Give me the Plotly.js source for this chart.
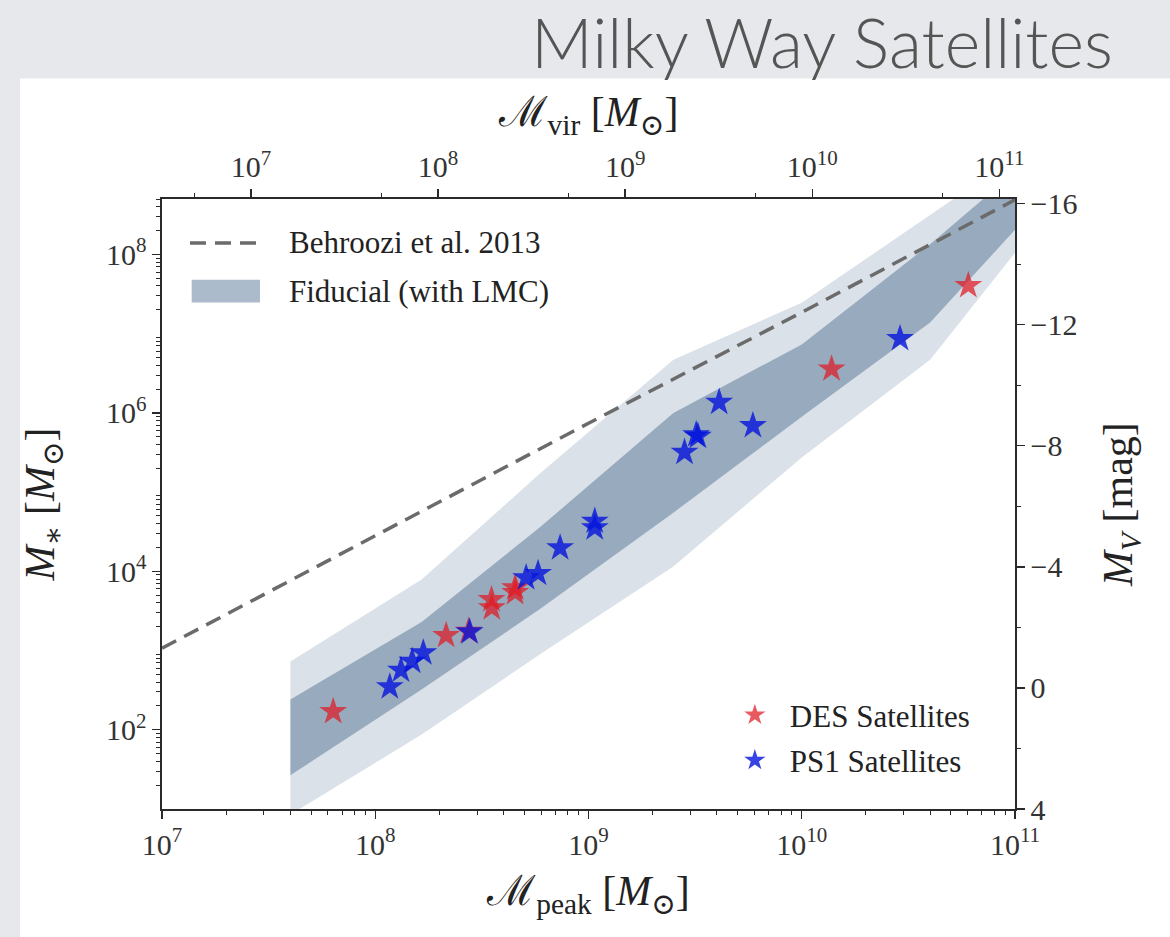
<!DOCTYPE html>
<html>
<head>
<meta charset="utf-8">
<script src="https://cdn.plot.ly/plotly-3.0.1.min.js"></script>
<style>
  html, body { margin: 0; padding: 0; background: #e6e8eb; }
  #chart { width: 1170px; height: 937px; }
</style>
</head>
<body>
<div id="chart"></div>
<script>
// Peak halo mass grid for the fiducial stellar-mass band [Msun]
const bandMpeak   = [4.0e7, 1.65e8, 5.9e8, 2.5e9, 1.0e10, 4.0e10, 1.0e11];
// 95% (outer) and 68% (inner) envelopes of M* [Msun]
const outerUpper  = [7.3e2, 7.9e3, 1.7e5, 4.7e6, 2.46e7, 3.08e8, 1.7e9];
const outerLower  = [8.5,   87,    890,   1.15e4, 2.73e5, 4.7e6, 1.05e8];
const innerUpper  = [241,   2.3e3, 3.57e4, 1.0e6, 7.3e6, 1.35e8, 1.1e9];
const innerLower  = [26.7,  322,   3.32e3, 5.5e4, 8.97e5, 1.38e7, 2.05e8];

// Behroozi et al. (2013) relation
const behrooziMpeak = [1e7, 1e8, 1e9, 1e10, 3.16e10, 1e11];
const behrooziMstar = [1.07e3, 2.82e4, 7.4e5, 1.86e7, 9.5e7, 4.9e8];

// Satellites placed on the relation
const desMpeak  = [6.35e7, 2.15e8, 2.74e8, 3.51e8, 3.52e8, 4.53e8, 4.53e8, 1.38e10, 6.04e10];
const desMstar  = [170, 1.55e3, 1.75e3, 4.4e3, 3.46e3, 6.2e3, 5.4e3, 3.59e6, 4.04e7];
const ps1Mpeak  = [1.17e8, 1.32e8, 1.49e8, 1.68e8, 2.77e8, 5.1e8, 5.8e8, 7.36e8, 1.07e9, 1.07e9,
                   2.82e9, 3.2e9, 3.26e9, 4.1e9, 5.9e9, 2.89e10];
const ps1Mstar  = [348, 565, 733, 935, 1.72e3, 8.3e3, 9.4e3, 1.98e4, 4.29e4, 3.54e4,
                   3.18e5, 5.3e5, 5.07e5, 1.36e6, 6.9e5, 8.65e6];

// Legend labels for the relation and the band
const relationLabels = ['Behroozi et al. 2013', 'Fiducial (with LMC)'];
const surveyLabels   = ['DES Satellites', 'PS1 Satellites'];

// Axis ticks
const peakTickVals = [1e7, 1e8, 1e9, 1e10, 1e11];
const peakTickText = ['10<sup>7</sup>', '10<sup>8</sup>', '10<sup>9</sup>', '10<sup>10</sup>', '10<sup>11</sup>'];
const virTickVals  = [1e7, 1e8, 1e9, 1e10, 1e11];
const virTickText  = ['10<sup>7</sup>', '10<sup>8</sup>', '10<sup>9</sup>', '10<sup>10</sup>', '10<sup>11</sup>'];
const mstarTickVals = [1e2, 1e4, 1e6, 1e8];
const mstarTickText = ['10<sup>2</sup>', '10<sup>4</sup>', '10<sup>6</sup>', '10<sup>8</sup>'];
const magTickVals  = [4, 0, -4, -8, -12, -16];
const magTickText  = ['4', '0', '\u22124', '\u22128', '\u221212', '\u221216'];
const magMinorVals = [2, -2, -6, -10, -14];
const virMinorVals = [5e6, 5e7, 5e8, 5e9, 5e10];

// log minor ticks (2..9 per decade)
function logMinor(lo, hi) {
  const out = [];
  for (let e = lo; e < hi; e++) for (let m = 2; m <= 9; m++) out.push(m * Math.pow(10, e));
  return out;
}

const serif = 'Liberation Serif, DejaVu Serif, serif';
const ink = '#2a2a2a';
const dashStyle = '16px,9px';
const dashColor = '#6b6b6b';
const outerColor = 'rgba(70,105,140,0.2)';
const innerColor = 'rgba(70,105,140,0.45)';

const closedBand = (up, lo) => ({
  x: bandMpeak.concat(bandMpeak.slice().reverse()),
  y: up.concat(lo.slice().reverse())
});
const outerPoly = closedBand(outerUpper, outerLower);
const innerPoly = closedBand(innerUpper, innerLower);

const traces = [
  {
    x: outerPoly.x, y: outerPoly.y, type: 'scatter', mode: 'lines',
    fill: 'toself', fillcolor: outerColor, line: {width: 0},
    showlegend: false, hoverinfo: 'skip'
  },
  {
    x: innerPoly.x, y: innerPoly.y, type: 'scatter', mode: 'lines',
    fill: 'toself', fillcolor: innerColor, line: {width: 0},
    name: relationLabels[1], showlegend: false
  },
  {
    x: behrooziMpeak, y: behrooziMstar, type: 'scatter', mode: 'lines',
    name: relationLabels[0], showlegend: false,
    line: {color: dashColor, width: 3.5, dash: dashStyle}
  },
  {
    x: desMpeak, y: desMstar, type: 'scatter', mode: 'markers',
    name: surveyLabels[0], legend: 'legend2', legendgroup: 'des',
    marker: {symbol: 'star', size: 21, color: 'rgba(225,25,35,0.72)', line: {width: 0}}
  },
  {
    x: ps1Mpeak, y: ps1Mstar, type: 'scatter', mode: 'markers',
    name: surveyLabels[1], legend: 'legend2', legendgroup: 'ps1',
    marker: {symbol: 'star', size: 21, color: 'rgba(5,20,220,0.8)', line: {width: 0}}
  },
  // empty carriers so the secondary (M_vir, M_V) axes get drawn
  {x: [null], y: [null], xaxis: 'x2', yaxis: 'y', mode: 'markers', showlegend: false, hoverinfo: 'skip'},
  {x: [null], y: [null], xaxis: 'x', yaxis: 'y2', mode: 'markers', showlegend: false, hoverinfo: 'skip'}
];

const axisCommon = {
  showgrid: false, zeroline: false, showline: true,
  linecolor: ink, linewidth: 1.6,
  ticks: 'outside', ticklen: 8, tickwidth: 1.3, tickcolor: ink,
  tickfont: {family: serif, size: 30, color: '#333'}
};
const minorCommon = {tickmode: 'array', ticks: 'outside', ticklen: 4, tickwidth: 1, tickcolor: ink};
const titleFont = {family: serif, size: 42, color: '#222'};
const legendFont = {family: serif, size: 31, color: '#222'};

// paper coordinates of the hand-placed relation legend
const legX0 = 0.0328, legX1 = 0.1149, legText = 0.1465;
const legRowY = [0.9279, 0.849];

const layout = {
  width: 1170, height: 937,
  margin: {l: 162, r: 155, t: 199, b: 128},
  paper_bgcolor: '#e6e8eb',
  plot_bgcolor: '#ffffff',
  showlegend: true,
  xaxis: Object.assign({}, axisCommon, {
    type: 'log', range: [7, 11],
    tickmode: 'array', tickvals: peakTickVals, ticktext: peakTickText,
    minor: Object.assign({tickvals: logMinor(7, 11)}, minorCommon),
    title: {text: 'ℳ<sub>peak</sub> [<i>M</i><sub>⊙</sub>]', font: titleFont, standoff: 16}
  }),
  yaxis: Object.assign({}, axisCommon, {
    type: 'log', range: [1, 8.7],
    tickmode: 'array', tickvals: mstarTickVals, ticktext: mstarTickText,
    minor: Object.assign({tickvals: logMinor(1, 9)}, minorCommon),
    title: {text: '<i>M</i><sub>∗</sub> [<i>M</i><sub>⊙</sub>]', font: titleFont, standoff: 38}
  }),
  xaxis2: Object.assign({}, axisCommon, {
    type: 'log', range: [6.5244, 11.0839], overlaying: 'x', side: 'top', anchor: 'y',
    tickmode: 'array', tickvals: virTickVals, ticktext: virTickText,
    minor: Object.assign({tickvals: virMinorVals}, minorCommon),
    title: {text: 'ℳ<sub>vir</sub> [<i>M</i><sub>⊙</sub>]', font: titleFont, standoff: 6}
  }),
  yaxis2: Object.assign({}, axisCommon, {
    range: [4, -16.155], overlaying: 'y', side: 'right', anchor: 'x',
    tickmode: 'array', tickvals: magTickVals, ticktext: magTickText,
    minor: Object.assign({tickvals: magMinorVals}, minorCommon),
    title: {text: '<i>M<sub>V</sub></i> [mag]', font: titleFont, standoff: 26}
  }),
  legend2: {
    x: 0.654, y: 0.198, xanchor: 'left', yanchor: 'top',
    bgcolor: 'rgba(255,255,255,0)', borderwidth: 0,
    font: legendFont, itemwidth: 60,
    traceorder: 'grouped', tracegroupgap: 2
  },
  shapes: [
    {
      type: 'rect', xref: 'paper', yref: 'paper', layer: 'below',
      x0: -0.1665, x1: 1.2, y0: -0.23, y1: 1.1975,
      fillcolor: '#ffffff', line: {width: 0}
    },
    {
      type: 'line', xref: 'paper', yref: 'paper',
      x0: legX0, x1: legX1, y0: legRowY[0], y1: legRowY[0],
      line: {color: dashColor, width: 3.5, dash: dashStyle}
    },
    {
      type: 'rect', xref: 'paper', yref: 'paper',
      x0: legX0 + 0.002, x1: legX1, y0: legRowY[1] - 0.0185, y1: legRowY[1] + 0.0185,
      fillcolor: innerColor, line: {width: 0}
    }
  ],
  annotations: [
    {
      text: relationLabels[0], showarrow: false, xref: 'paper', yref: 'paper',
      x: legText, y: legRowY[0], xanchor: 'left', yanchor: 'middle', font: legendFont
    },
    {
      text: relationLabels[1], showarrow: false, xref: 'paper', yref: 'paper',
      x: legText, y: legRowY[1], xanchor: 'left', yanchor: 'middle', font: legendFont
    },
    {
      text: 'Milky Way Satellites', showarrow: false,
      xref: 'paper', yref: 'paper', x: 1.1172, y: 1.258,
      xanchor: 'right', yanchor: 'middle',
      font: {family: 'Lato, Open Sans, sans-serif', size: 68, color: '#555555', weight: 300}
    }
  ]
};

Plotly.newPlot('chart', traces, layout, {staticPlot: true, displayModeBar: false});
</script>
</body>
</html>
